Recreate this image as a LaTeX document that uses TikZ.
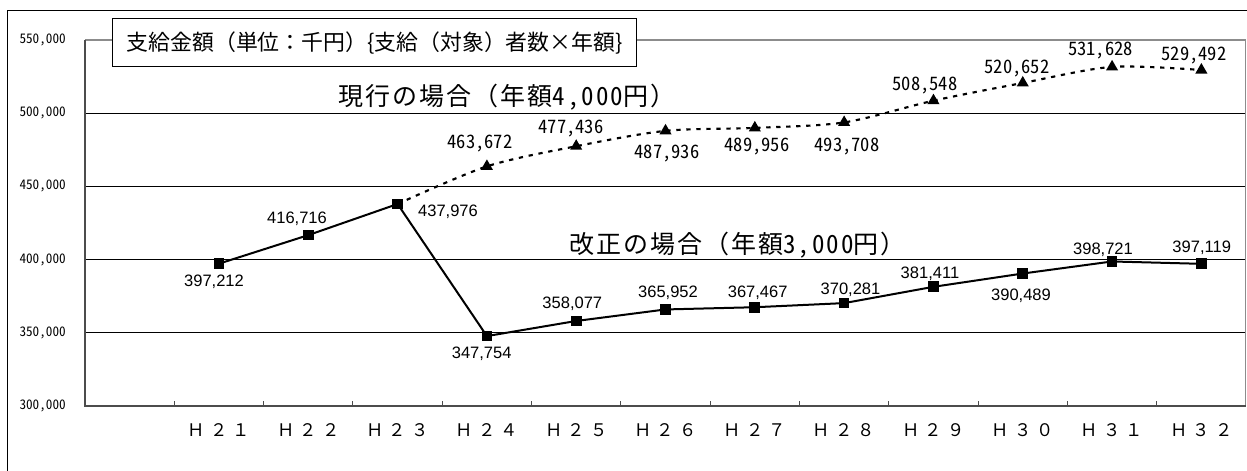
\documentclass[tikz,border=0pt]{standalone}
\usepackage{fontspec}
\newfontfamily\halffont[CharacterWidth=Half]{Noto Sans CJK JP}
\newfontfamily\titlefont{Noto Sans CJK JP}
\newfontfamily\seriesfont[LetterSpace=8]{Noto Sans CJK JP}
\newfontfamily\seriesnum[CharacterWidth=Half,LetterSpace=8]{Noto Sans CJK JP}
\newfontfamily\catfont[LetterSpace=30]{Noto Sans CJK JP}
\newfontfamily\valfont{Liberation Sans}
\usetikzlibrary{shapes.geometric}

\begin{document}
\begin{tikzpicture}[x=0.75pt, y=-0.75pt,
		declare function={cx(\i)=85+89.31*(\i+0.5); vy(\v)=406-(\v-300)*1.464;}]
		\tikzset{
			frameline/.style={draw=black, line width=0.75pt},
			axisline/.style={draw=black!70, line width=1.5pt},
			borderline/.style={draw=black!45, line width=1.1pt},
			gridline/.style={draw=black, line width=0.75pt},
			newline/.style={draw=black, line width=1.5pt},
			curline/.style={draw=black, line width=1.6pt, dash pattern=on 3.2pt off 4.3pt},
			sqmark/.style={rectangle, fill=black, minimum size=8pt, inner sep=0pt},
			trmark/.style={regular polygon, regular polygon sides=3, fill=black, minimum size=10.5pt, inner sep=0pt},
			newlabel/.style={font=\valfont\fontsize{12.4pt}{14pt}\selectfont, inner sep=0pt},
			curlabel/.style={font=\halffont\fontsize{13.9pt}{16pt}\selectfont, inner sep=0pt},
			ylabel/.style={font=\halffont\fontsize{9.9pt}{11pt}\selectfont, anchor=east, inner sep=0pt},
			catlabel/.style={font=\catfont\fontsize{13pt}{14pt}\selectfont, inner sep=0pt},
			serieslabel/.style={font=\seriesfont\fontsize{18.75pt}{21pt}\selectfont, inner sep=0pt},
			titlebox/.style={draw=black, line width=0.75pt, fill=white, minimum width=393pt, minimum height=35.8pt, inner sep=0pt, font=\titlefont\fontsize{16.4pt}{18pt}\selectfont}
		}
		\useasboundingbox[fill=white] (0,0) rectangle (1247,471);
		
		% Outer frame
		\draw[frameline] (7.5,471) -- (7.5,10.7) -- (1247,10.7);
		
		% Grid lines
		\draw[gridline] (85,{vy(500)}) -- (1245.5,{vy(500)});
		\draw[gridline] (85,{vy(450)}) -- (1245.5,{vy(450)});
		\draw[gridline] (85,{vy(400)}) -- (1245.5,{vy(400)});
		\draw[gridline] (85,{vy(350)}) -- (1245.5,{vy(350)});
		
		% Plot border and axes
		\draw[borderline] (85,{vy(550)}) -- (1245.5,{vy(550)}) -- (1245.5,{vy(300)});
		\draw[axisline] (85,{vy(550)}) -- (85,{vy(300)}) -- (1245.5,{vy(300)});
		\foreach \k in {1,...,12}
			\draw[axisline, line width=0.75pt] ({85+89.31*\k},{vy(300)}) -- ({85+89.31*\k},{vy(300)-5});
		
		% Axis labels
		\node[ylabel] (y550) at (66,{vy(550)}) {550,000};
		\node[ylabel] (y500) at (66,{vy(500)}) {500,000};
		\node[ylabel] (y450) at (66,{vy(450)}) {450,000};
		\node[ylabel] (y400) at (66,{vy(400)}) {400,000};
		\node[ylabel] (y350) at (66,{vy(350)}) {350,000};
		\node[ylabel] (y300) at (66,{vy(300)}) {300,000};
		\foreach \i/\lab in {1/Ｈ２１, 2/Ｈ２２, 3/Ｈ２３, 4/Ｈ２４, 5/Ｈ２５, 6/Ｈ２６, 7/Ｈ２７, 8/Ｈ２８, 9/Ｈ２９, 10/Ｈ３０, 11/Ｈ３１, 12/Ｈ３２}
			\node[catlabel] (cat\i) at ({cx(\i)},430) {\lab};
		
		% Data points, revised (3,000 yen)
		\coordinate (s1) at ({cx(1)},{vy(397.212)});
		\coordinate (s2) at ({cx(2)},{vy(416.716)});
		\coordinate (s3) at ({cx(3)},{vy(437.976)});
		\coordinate (s4) at ({cx(4)},{vy(347.754)});
		\coordinate (s5) at ({cx(5)},{vy(358.077)});
		\coordinate (s6) at ({cx(6)},{vy(365.952)});
		\coordinate (s7) at ({cx(7)},{vy(367.467)});
		\coordinate (s8) at ({cx(8)},{vy(370.281)});
		\coordinate (s9) at ({cx(9)},{vy(381.411)});
		\coordinate (s10) at ({cx(10)},{vy(390.489)});
		\coordinate (s11) at ({cx(11)},{vy(398.721)});
		\coordinate (s12) at ({cx(12)},{vy(397.119)});
		
		% Data points, current (4,000 yen)
		\coordinate (t4) at ({cx(4)},{vy(463.672)});
		\coordinate (t5) at ({cx(5)},{vy(477.436)});
		\coordinate (t6) at ({cx(6)},{vy(487.936)});
		\coordinate (t7) at ({cx(7)},{vy(489.956)});
		\coordinate (t8) at ({cx(8)},{vy(493.708)});
		\coordinate (t9) at ({cx(9)},{vy(508.548)});
		\coordinate (t10) at ({cx(10)},{vy(520.652)});
		\coordinate (t11) at ({cx(11)},{vy(531.628)});
		\coordinate (t12) at ({cx(12)},{vy(529.492)});
		
		% Lines
		\draw[curline] plot[smooth, tension=0.5] coordinates {(s3) (t4) (t5) (t6) (t7) (t8) (t9) (t10) (t11) (t12)};
		\draw[newline] (s1) -- (s2) -- (s3) -- (s4) -- (s5) -- (s6) -- (s7) -- (s8) -- (s9) -- (s10) -- (s11) -- (s12);
		
		% Markers
		\foreach \p in {s1,s2,s3,s4,s5,s6,s7,s8,s9,s10,s11,s12}
			\node[sqmark] at (\p) {};
		\foreach \p in {t4,t5,t6,t7,t8,t9,t10,t11,t12}
			\node[trmark] at (\p) {};
		
		% Value labels
		\node[newlabel] (l1) at (214,281.7) {397,212};
		\node[newlabel] (l2) at (297,219) {416,716};
		\node[newlabel] (l3) at (448,211.5) {437,976};
		\node[newlabel] (l4) at (481.7,354) {347,754};
		\node[newlabel] (l5) at (572.3,304) {358,077};
		\node[newlabel] (l6) at (668,292.7) {365,952};
		\node[newlabel] (l7) at (757.7,292.7) {367,467};
		\node[newlabel] (l8) at (850.5,289.3) {370,281};
		\node[newlabel] (l9) at (930,273.3) {381,411};
		\node[newlabel] (l10) at (1021,295.7) {390,489};
		\node[newlabel] (l11) at (1103,249.3) {398,721};
		\node[newlabel] (l12) at (1201.7,247.3) {397,119};
		
		\node[curlabel] (m4) at (480,144) {463,672};
		\node[curlabel] (m5) at (571,128.3) {477,436};
		\node[curlabel] (m6) at (667,154) {487,936};
		\node[curlabel] (m7) at (757,146.7) {489,956};
		\node[curlabel] (m8) at (847,146.7) {493,708};
		\node[curlabel] (m9) at (925,86) {508,548};
		\node[curlabel] (m10) at (1017,69) {520,652};
		\node[curlabel] (m11) at (1100.5,51) {531,628};
		\node[curlabel] (m12) at (1194,56) {529,492};
		
		% Series names
		\node[serieslabel] (curname) at (507,97.5) {現行の場合（年額{\seriesnum 4,000}円）};
		\node[serieslabel] (newname) at (737.5,245.5) {改正の場合（年額{\seriesnum 3,000}円）};
		
		% Title
		\node[titlebox] (title) at (374.7,42.85) {支給金額（単位：千円）\{支給（対象）者数×年額\}};
		
	\end{tikzpicture}
\end{document}
